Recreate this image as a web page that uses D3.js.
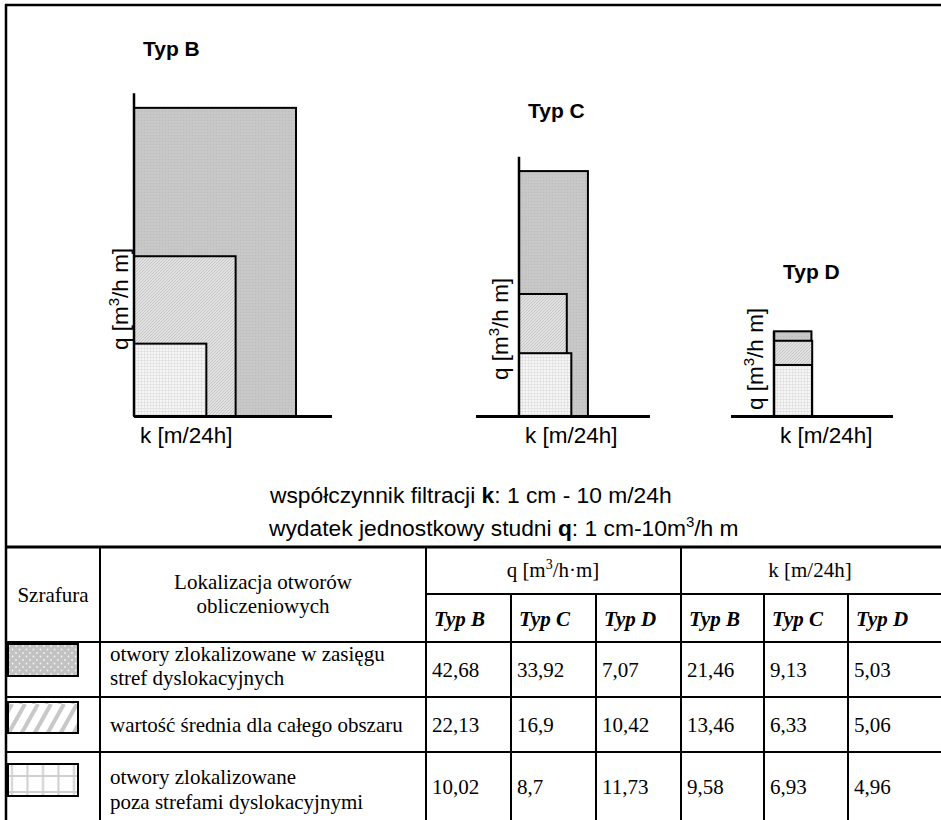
<!DOCTYPE html>
<html><head><meta charset="utf-8">
<script src="https://cdn.jsdelivr.net/npm/d3@7"></script>
<style>
html,body{margin:0;padding:0;background:#fff;}
svg{display:block;}
</style></head>
<body>
<script>
// ---------- DATA ----------
const types = ["Typ B", "Typ C", "Typ D"];
const seriesNames = [
  ["otwory zlokalizowane w zasięgu", "stref dyslokacyjnych"],
  ["wartość średnia dla całego obszaru"],
  ["otwory zlokalizowane", "poza strefami dyslokacyjnymi"]
];
// q [m3/h·m] per series, per type (B, C, D)
const qDislocation = [42.68, 33.92, 7.07];
const qMean        = [22.13, 16.9, 10.42];
const qOutside     = [10.02, 8.7, 11.73];
// k [m/24h]
const kDislocation = [21.46, 9.13, 5.03];
const kMean        = [13.46, 6.33, 5.06];
const kOutside     = [9.58, 6.93, 4.96];
// top of each q axis (in q units)
const qAxisMax = [44.7, 35.9, 11.73];
const captionK = ["współczynnik filtracji ", "k", ": 1 cm - 10 m/24h"];
const captionQ = ["wydatek jednostkowy studni ", "q", ": 1 cm-10m", "3", "/h m"];

const qSeries = [qDislocation, qMean, qOutside];
const kSeries = [kDislocation, kMean, kOutside];

// ---------- LAYOUT ----------
const W = 941, H = 820;
const baseY = 416;
const pxQ = 7.22, pxK = 7.55;
const groupX = [134, 519, 774];
const baseExt = [[134, 332], [476, 650], [731, 893]];
const titlePos = [[143, 56], [528, 118], [783, 279]];
const yLabelPos = [[128, 350], [508, 380], [763, 410]];
const sans = "'Liberation Sans', Arial, Helvetica, sans-serif";
const serif = "'Liberation Serif', 'Times New Roman', Times, serif";

const svg = d3.select("body").append("svg").attr("width", W).attr("height", H);
const defs = svg.append("defs");

function pat(id, w, h, bg, draw) {
  const p = defs.append("pattern").attr("id", id).attr("patternUnits", "userSpaceOnUse")
    .attr("width", w).attr("height", h);
  p.append("rect").attr("width", w).attr("height", h).attr("fill", bg);
  draw(p);
}
pat("cGray", 3, 3, "#c6c6c6", p => {
  p.append("rect").attr("x", 0).attr("y", 0).attr("width", 1).attr("height", 1).attr("fill", "#bcbcbc");
  p.append("rect").attr("x", 1.5).attr("y", 1.5).attr("width", 1).attr("height", 1).attr("fill", "#cfcfcf");
});
pat("cHatch", 3, 3, "#e2e2e2", p => {
  p.append("path").attr("d", "M-1,1 L1,-1 M0,3 L3,0 M2,4 L4,2").attr("stroke", "#bdbdbd").attr("stroke-width", 0.8);
});
pat("cGrid", 3, 3, "#f6f6f6", p => {
  p.append("path").attr("d", "M0,0.5 H3 M0.5,0 V3").attr("stroke", "#dedede").attr("stroke-width", 0.7);
});
pat("lDots", 7, 7, "#c2c2c2", p => {
  p.append("circle").attr("cx", 2).attr("cy", 2).attr("r", 0.9).attr("fill", "#f2f2f2");
  p.append("circle").attr("cx", 5.5).attr("cy", 5.5).attr("r", 0.9).attr("fill", "#f2f2f2");
});
pat("lStripes", 13, 32, "#ffffff", p => {
  p.append("path").attr("d", "M-6,32 L12,0 M7,32 L25,0 M-19,32 L-1,0")
    .attr("stroke", "#c8c8c8").attr("stroke-width", 4);
});
pat("lGrid", 15.5, 16, "#ffffff", p => {
  p.append("path").attr("d", "M12,0 V16 M0,8 H15.5").attr("stroke", "#cfcfcf").attr("stroke-width", 2);
});

const chartFills = ["url(#cGray)", "url(#cHatch)", "url(#cGrid)"];
const legendFills = ["url(#lDots)", "url(#lStripes)", "url(#lGrid)"];

// ---------- CHART ----------
const y = d3.scaleLinear().domain([0, 45]).range([baseY, baseY - 45 * pxQ]);

types.forEach((t, gi) => {
  const x = d3.scaleLinear().domain([0, 25]).range([groupX[gi], groupX[gi] + 25 * pxK]);
  const g = svg.append("g");
  const recs = qSeries.map((s, si) => ({ q: s[gi], k: kSeries[si][gi], si }))
    .sort((a, b) => b.q - a.q);
  g.selectAll("rect").data(recs).join("rect")
    .attr("x", x(0))
    .attr("y", d => y(d.q))
    .attr("width", d => x(d.k) - x(0))
    .attr("height", d => y(0) - y(d.q))
    .attr("fill", (d, i) => chartFills[i])
    .attr("stroke", "#000").attr("stroke-width", 2);
  g.append("line").attr("x1", x(0)).attr("x2", x(0)).attr("y1", y(0)).attr("y2", y(qAxisMax[gi]))
    .attr("stroke", "#000").attr("stroke-width", 2.5);
  g.append("line").attr("x1", baseExt[gi][0]).attr("x2", baseExt[gi][1]).attr("y1", y(0) + 0.5).attr("y2", y(0) + 0.5)
    .attr("stroke", "#000").attr("stroke-width", 3);
  g.append("text").attr("x", titlePos[gi][0]).attr("y", titlePos[gi][1])
    .attr("font-family", sans).attr("font-weight", "bold").attr("font-size", 21).text(t);
  g.append("text").attr("x", x(0) + 6).attr("y", 443)
    .attr("font-family", sans).attr("font-size", 22.5).text("k [m/24h]");
  const yl = g.append("text")
    .attr("transform", `translate(${yLabelPos[gi][0]},${yLabelPos[gi][1]}) rotate(-90)`)
    .attr("font-family", sans).attr("font-size", 22.5);
  yl.append("tspan").text("q [m");
  yl.append("tspan").attr("dy", -9).attr("font-size", 15).text("3");
  yl.append("tspan").attr("dy", 9).text("/h m]");
});

// captions
const c1 = svg.append("text").attr("x", 270).attr("y", 503).attr("font-family", sans).attr("font-size", 22.8);
c1.append("tspan").text(captionK[0]);
c1.append("tspan").attr("font-weight", "bold").text(captionK[1]);
c1.append("tspan").text(captionK[2]);
const c2 = svg.append("text").attr("x", 269).attr("y", 536).attr("font-family", sans).attr("font-size", 22.8);
c2.append("tspan").text(captionQ[0]);
c2.append("tspan").attr("font-weight", "bold").text(captionQ[1]);
c2.append("tspan").text(captionQ[2]);
c2.append("tspan").attr("dy", -9).attr("font-size", 15).text(captionQ[3]);
c2.append("tspan").attr("dy", 9).text(captionQ[4]);

// ---------- FRAME & TABLE ----------
const colX = [6, 100, 426, 511, 596, 681, 764, 848, 948];
const rowY = [547, 594, 642, 697, 752, 822];
const ln = (x1, y1, x2, y2, w) => svg.append("line").attr("x1", x1).attr("y1", y1).attr("x2", x2).attr("y2", y2)
  .attr("stroke", "#000").attr("stroke-width", w || 2);
ln(5, 5, 948, 5, 2.5);
ln(6, 4, 6, 822, 2.5);
ln(6, rowY[0], 948, rowY[0], 3);
ln(colX[2], rowY[1], 948, rowY[1]);
[2, 3, 4].forEach(r => ln(6, rowY[r], 948, rowY[r]));
[1, 2, 5].forEach(c => ln(colX[c], rowY[0], colX[c], 822));
[3, 4, 6, 7].forEach(c => ln(colX[c], rowY[1], colX[c], 822));

const tt = (x, yy, s, opts = {}) => svg.append("text").attr("x", x).attr("y", yy)
  .attr("font-family", serif).attr("font-size", opts.size || 21)
  .attr("text-anchor", opts.anchor || "start")
  .attr("font-weight", opts.bold ? "bold" : "normal")
  .attr("font-style", opts.italic ? "italic" : "normal").text(s);

tt(53, 602, "Szrafura", { anchor: "middle" });
tt(263, 589, "Lokalizacja otworów", { anchor: "middle" });
tt(263, 613, "obliczeniowych", { anchor: "middle" });
const qh = tt(553, 577, "", { anchor: "middle" });
qh.append("tspan").text("q [m");
qh.append("tspan").attr("dy", -8).attr("font-size", 14).text("3");
qh.append("tspan").attr("dy", 8).text("/h·m]");
tt(810, 577, "k [m/24h]", { anchor: "middle" });
for (let i = 0; i < 6; i++) {
  tt(colX[2 + i] + 8, 626, types[i % 3], { bold: true, italic: true });
}

const rowTextY = [[661, 685], [732], [784, 809]];
const rowValY = [677, 732, 794];
const swatchY = [[644, 676], [702, 733], [764, 796]];
seriesNames.forEach((names, si) => {
  svg.append("rect").attr("x", 8).attr("y", swatchY[si][0]).attr("width", 70)
    .attr("height", swatchY[si][1] - swatchY[si][0])
    .attr("fill", legendFills[si]).attr("stroke", "#000").attr("stroke-width", 2);
  names.forEach((n, li) => tt(110, rowTextY[si][li], n));
  const vals = [qSeries[si][0], qSeries[si][1], qSeries[si][2], kSeries[si][0], kSeries[si][1], kSeries[si][2]];
  vals.forEach((v, vi) => tt(colX[2 + vi] + 6, rowValY[si], String(v).replace(".", ",")));
});
</script>
</body></html>
